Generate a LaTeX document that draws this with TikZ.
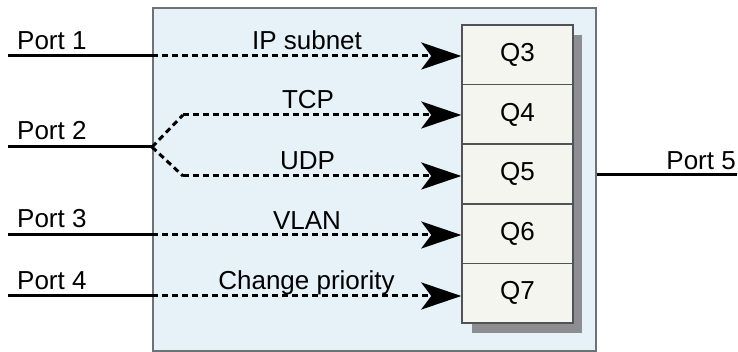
\documentclass[tikz,border=0pt]{standalone}
\usepackage{fontspec}
\setmainfont{Liberation Sans}
\usetikzlibrary{arrows.meta}
\definecolor{outerfill}{HTML}{E6F1F8}
\definecolor{outerdraw}{HTML}{6E7175}
\definecolor{qfill}{HTML}{F4F5EF}
\definecolor{qdraw}{HTML}{505256}
\definecolor{shadowc}{HTML}{8C8E92}
\begin{document}
\begin{tikzpicture}[x=1pt,y=-1pt,
  lbl/.style={font=\fontsize{26}{28}\selectfont, inner sep=0pt},
  qbox/.style={draw=qdraw, line width=1.5pt, fill=qfill, minimum width=111pt, minimum height=59.6pt, inner sep=0pt, font=\fontsize{26}{28}\selectfont},
  wire/.style={line width=3pt, black},
  flow/.style={line width=3pt, black, dash pattern=on 6pt off 4pt, -{Stealth[length=40pt,width=27pt,inset=10pt]}},
  fork/.style={line width=3pt, black, dash pattern=on 6pt off 4pt},
]
\useasboundingbox (0,0) rectangle (738,352);
% outer box
\node[draw=outerdraw, line width=1.6pt, fill=outerfill, minimum width=443pt, minimum height=343pt, anchor=north west, inner sep=0pt] (outer) at (152,7) {};
% shadow
\fill[shadowc] (472,35) rectangle (582,333);
% queues
\node[qbox] (q3) at (517.5,54.8) {Q3};
\node[qbox] (q4) at (517.5,114.4) {Q4};
\node[qbox] (q5) at (517.5,174) {Q5};
\node[qbox] (q6) at (517.5,233.6) {Q6};
\node[qbox] (q7) at (517.5,293.2) {Q7};
% port ends
\coordinate (p1) at (8,56);
\coordinate (p2) at (8,147);
\coordinate (p3) at (8,235);
\coordinate (p4) at (8,296);
\coordinate (p5) at (737,175);
\coordinate (j1) at (p1 -| outer.west);
\coordinate (j2) at (p2 -| outer.west);
\coordinate (j3) at (p3 -| outer.west);
\coordinate (j4) at (p4 -| outer.west);
\coordinate (f1) at (183,115);
\coordinate (f2) at (183,176);
% solid wires
\draw[wire] (p1) -- (j1);
\draw[wire] (p2) -- (j2);
\draw[wire] (p3) -- (j3);
\draw[wire] (p4) -- (j4);
\draw[wire] (p5 -| outer.east) -- (p5);
% dashed flows
\draw[flow] (j1) -- (j1 -| q3.west);
\draw[fork] (j2) -- (f1);
\draw[fork] (j2) -- (f2);
\draw[flow] (f1) -- (f1 -| q4.west);
\draw[flow] (f2) -- (f2 -| q5.west);
\draw[flow] (j3) -- (j3 -| q6.west);
\draw[flow] (j4) -- (j4 -| q7.west);
% port labels
\node[lbl, anchor=base west] (lp1) at (17,50) {Port 1};
\node[lbl, anchor=base west] (lp2) at (17,140) {Port 2};
\node[lbl, anchor=base west] (lp3) at (17,228) {Port 3};
\node[lbl, anchor=base west] (lp4) at (17,290) {Port 4};
\node[lbl, anchor=base east] (lp5) at (736,170) {Port 5};
% flow labels
\node[lbl, anchor=base] (l1) at (307,50) {IP subnet};
\node[lbl, anchor=base] (l2) at (308,109) {TCP};
\node[lbl, anchor=base] (l3) at (307.5,170) {UDP};
\node[lbl, anchor=base] (l4) at (307,230) {VLAN};
\node[lbl, anchor=base] (l5) at (306.5,290) {Change priority};
\end{tikzpicture}
\end{document}
